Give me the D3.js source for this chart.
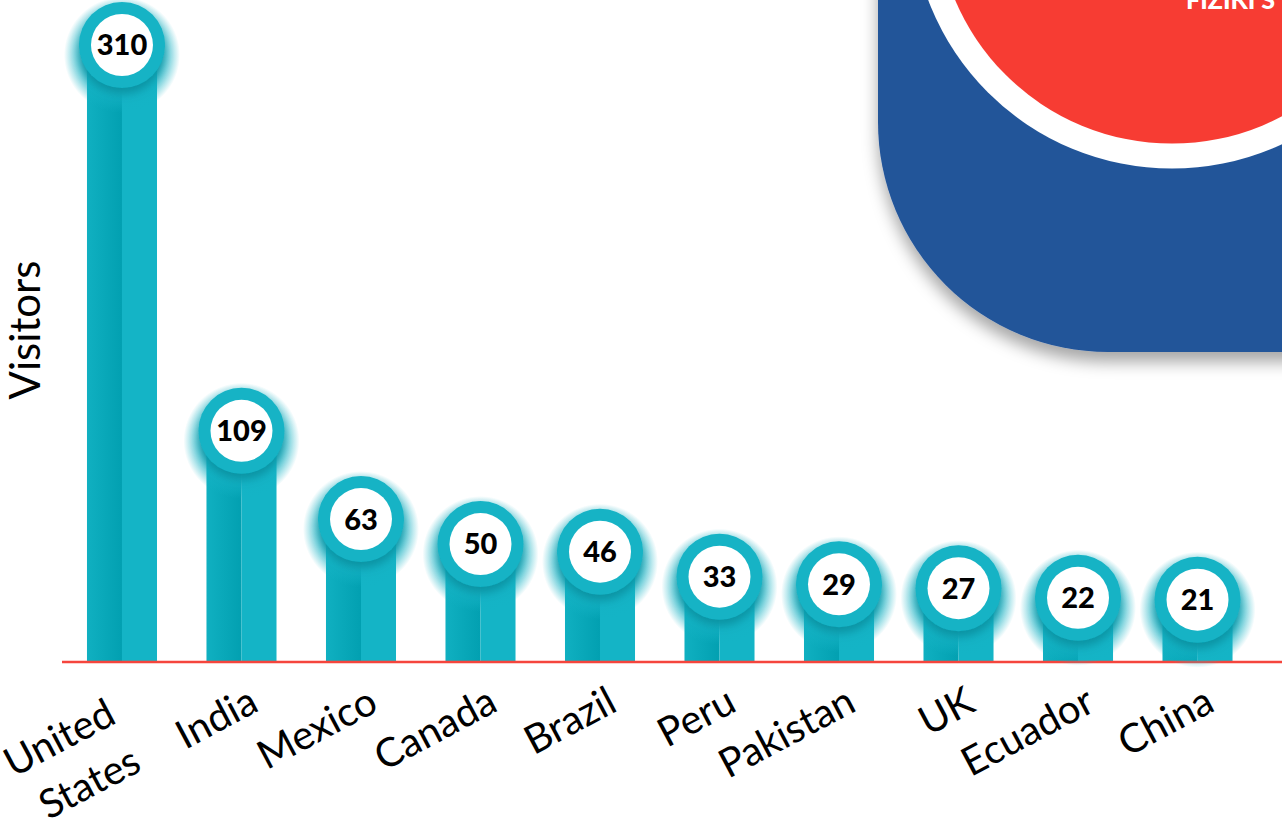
<!DOCTYPE html>
<html>
<head>
<meta charset="utf-8">
<script src="https://cdn.jsdelivr.net/npm/d3@7"></script>
<style>
  body { margin: 0; background: #fff; overflow: hidden; }
  svg { display: block; }
</style>
</head>
<body>
<div id="chart"></div>
<script>
// Visitors by country
const countries = ["United States", "India", "Mexico", "Canada", "Brazil", "Peru", "Pakistan", "UK", "Ecuador", "China"];
const visitors = [310, 109, 63, 50, 46, 33, 29, 27, 22, 21];
const yLabel = "Visitors";
const badgeText = "FIZIKI S";

const width = 1282, height = 831;
const baseline = 662;

const svg = d3.select("#chart").append("svg").attr("width", width).attr("height", height);
const defs = svg.append("defs");

// bar left half gradient
const grad = defs.append("linearGradient").attr("id", "barLeft").attr("x1", "0%").attr("x2", "100%");
grad.append("stop").attr("offset", "0%").attr("stop-color", "#10b0c1");
grad.append("stop").attr("offset", "100%").attr("stop-color", "#02a0b1");

// halo behind circles
const halo = defs.append("radialGradient").attr("id", "halo");
halo.append("stop").attr("offset", "0.65").attr("stop-color", "#14b3c5").attr("stop-opacity", 0.95);
halo.append("stop").attr("offset", "0.82").attr("stop-color", "#14b3c5").attr("stop-opacity", 0.5);
halo.append("stop").attr("offset", "1").attr("stop-color", "#14b3c5").attr("stop-opacity", 0);

// shadow on the circle
const sh = defs.append("filter").attr("id", "ringShadow").attr("x", "-50%").attr("y", "-50%").attr("width", "200%").attr("height", "200%");
sh.append("feDropShadow").attr("dx", 0).attr("dy", 6).attr("stdDeviation", 4)
    .attr("flood-color", "#006b78").attr("flood-opacity", 0.45);

// shadow of the blue panel
const ps = defs.append("filter").attr("id", "panelShadow").attr("x", "-20%").attr("y", "-20%").attr("width", "140%").attr("height", "150%");
ps.append("feDropShadow").attr("dx", 0).attr("dy", 10).attr("stdDeviation", 8)
    .attr("flood-color", "#000").attr("flood-opacity", 0.35);

const x = d3.scaleBand().domain(countries).range([62, 1257.5]).paddingInner(0.414).paddingOuter(0.209);
const y = d3.scaleLinear().domain([0, 310]).range([640, 45]);

const data = countries.map((c, i) => ({ country: c, value: visitors[i] }));

// bars (two halves)
const bars = svg.append("g");
bars.selectAll("rect.left").data(data).enter().append("rect")
    .attr("x", d => x(d.country))
    .attr("y", d => y(d.value))
    .attr("width", x.bandwidth() / 2)
    .attr("height", d => baseline - y(d.value))
    .attr("fill", "url(#barLeft)");
bars.selectAll("rect.right").data(data).enter().append("rect")
    .attr("x", d => x(d.country) + x.bandwidth() / 2)
    .attr("y", d => y(d.value))
    .attr("width", x.bandwidth() / 2)
    .attr("height", d => baseline - y(d.value))
    .attr("fill", "#14b4c6");

// baseline
svg.append("line").attr("x1", 62).attr("x2", width).attr("y1", baseline).attr("y2", baseline)
    .attr("stroke", "#f5453d").attr("stroke-width", 2.5);

// x axis labels
const xAxis = svg.append("g").attr("transform", `translate(0,${baseline})`)
    .call(d3.axisBottom(x).tickSize(0).tickPadding(0));
xAxis.select(".domain").remove();
xAxis.selectAll("text").remove();
xAxis.selectAll(".tick").each(function(d) {
    const t = d3.select(this).append("text")
        .attr("transform", "translate(19,48) rotate(-28)")
        .attr("text-anchor", "end")
        .attr("fill", "#000")
        .style("font-family", "Lato, 'Noto Sans', sans-serif")
        .style("font-size", "40px");
    const words = d.split(" ");
    if (words.length > 1) {
        t.append("tspan").attr("x", -26).attr("y", 0).text(words[0]);
        t.append("tspan").attr("x", -26).attr("y", 54).text(words.slice(1).join(" "));
    } else {
        t.text(d);
    }
});

// badges
const badges = svg.append("g").selectAll("g").data(data).enter().append("g")
    .attr("transform", d => `translate(${x(d.country) + x.bandwidth() / 2},${y(d.value)})`);
badges.append("circle").attr("cy", 10).attr("r", 58).attr("fill", "url(#halo)");
badges.append("circle").attr("r", 43).attr("fill", "#14b3c5").attr("filter", "url(#ringShadow)");
badges.append("circle").attr("r", 31).attr("fill", "#fff");
badges.append("text")
    .attr("text-anchor", "middle").attr("dy", "0.36em")
    .style("font-family", "Lato, 'Noto Sans', sans-serif")
    .style("font-weight", 900).style("font-size", "29px")
    .attr("fill", "#000")
    .text(d => d.value);

// y label
svg.append("text").attr("transform", "translate(40,330) rotate(-90)")
    .attr("text-anchor", "middle")
    .style("font-family", "Lato, 'Noto Sans', sans-serif").style("font-size", "42px")
    .text(yLabel);

// blue panel top right
const panel = svg.append("g");
const r = 230, px = 878, pb = 352;
panel.append("path")
    .attr("d", `M${px},-50 L${px},${pb - r} A${r},${r} 0 0 0 ${px + r},${pb} L${width + 50},${pb} L${width + 50},-50 Z`)
    .attr("fill", "#235499").attr("filter", "url(#panelShadow)");
panel.append("circle").attr("cx", 1172).attr("cy", -92).attr("r", 260.6).attr("fill", "#fff");
panel.append("circle").attr("cx", 1172).attr("cy", -92).attr("r", 235.6).attr("fill", "#f73c33");
panel.append("text").attr("x", 1186).attr("y", 9)
    .style("font-family", "Lato, 'Noto Sans', sans-serif").style("font-weight", 900).style("font-size", "25px")
    .attr("fill", "#fff").text(badgeText);
</script>
</body>
</html>
